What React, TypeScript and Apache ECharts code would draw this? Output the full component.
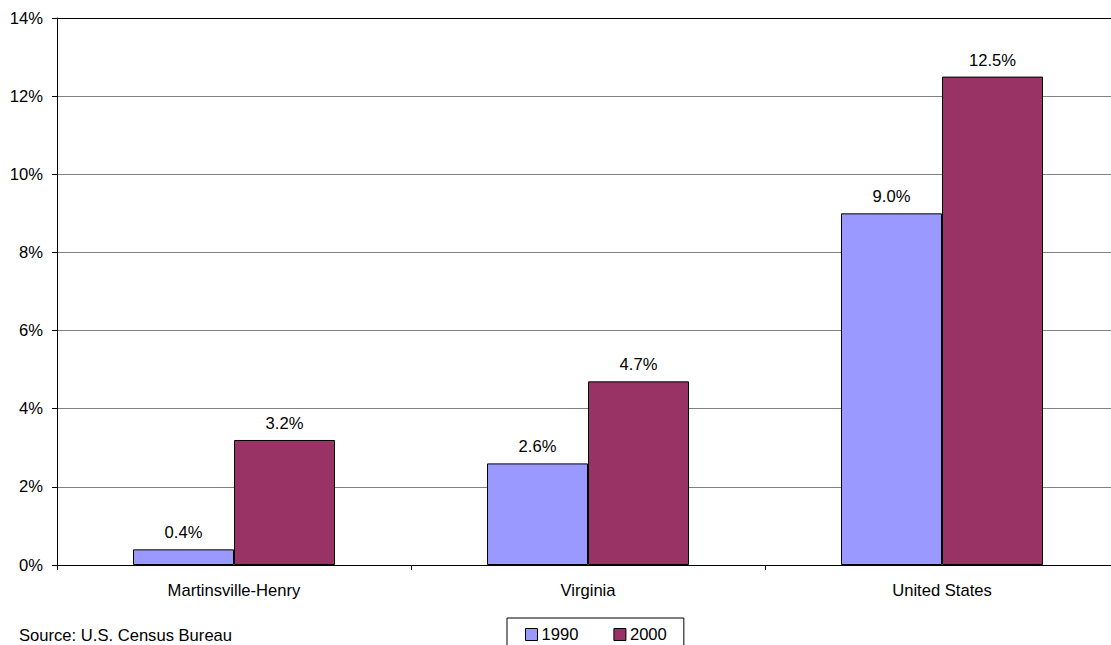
import React, { useEffect, useRef } from "react";
import * as echarts from "echarts";

const categories = ["Martinsville-Henry", "Virginia", "United States"];
const series1990 = [0.4, 2.6, 9.0];
const series2000 = [3.2, 4.7, 12.5];
const seriesNames = ["1990", "2000"];
const yTicks = [0, 2, 4, 6, 8, 10, 12, 14];
const sourceText = "Source: U.S. Census Bureau";

const FONT = "'Liberation Sans', Arial, sans-serif";
const FS = 16.6;

export default function App() {
  const ref = useRef<HTMLDivElement>(null);
  useEffect(() => {
    if (!ref.current) return;
    const chart = echarts.init(ref.current, undefined, { renderer: "svg" });
    const label = {
      show: true,
      position: "top" as const,
      distance: 8,
      color: "#000",
      fontSize: FS,
      fontFamily: FONT,
      formatter: (p: any) => Number(p.value).toFixed(1) + "%",
    };
    chart.setOption({
      animation: false,
      backgroundColor: "#fff",
      textStyle: { fontFamily: FONT },
      grid: { left: 57, top: 18, right: 0, bottom: 80, containLabel: false },
      legend: {
        data: seriesNames,
        left: 507,
        top: 618,
        orient: "horizontal",
        padding: [8, 17, 8, 18],
        itemGap: 35,
        itemWidth: 12,
        itemHeight: 12,
        borderColor: "#000",
        borderWidth: 1,
        borderRadius: 0,
        icon: "rect",
        itemStyle: { borderColor: "#000", borderWidth: 1 },
        textStyle: { fontSize: FS, color: "#000", fontFamily: FONT, padding: [0, 0, 0, -1] },
      },
      xAxis: {
        type: "category",
        data: categories,
        axisLine: { lineStyle: { color: "#000", width: 1 } },
        axisTick: { show: true, length: 5, lineStyle: { color: "#000" } },
        axisLabel: { fontSize: FS, color: "#000", margin: 17, fontFamily: FONT },
        splitLine: { show: false },
      },
      yAxis: {
        type: "value",
        min: yTicks[0],
        max: yTicks[yTicks.length - 1],
        interval: 2,
        axisLine: { show: true, lineStyle: { color: "#000", width: 1 } },
        axisTick: { show: true, length: 5, lineStyle: { color: "#000" } },
        axisLabel: {
          fontSize: FS,
          color: "#000",
          margin: 14,
          fontFamily: FONT,
          formatter: (v: number) => v + "%",
        },
        splitLine: {
          show: true,
          lineStyle: {
            color: ["#808080", "#808080", "#808080", "#808080", "#808080", "#808080", "#808080", "#000"],
            width: 1,
          },
        },
      },
      series: [
        {
          name: seriesNames[0],
          type: "bar",
          data: series1990,
          barWidth: 101,
          barGap: "0%",
          itemStyle: { color: "#9999FF", borderColor: "#000", borderWidth: 1 },
          label,
        },
        {
          name: seriesNames[1],
          type: "bar",
          data: series2000,
          barWidth: 101,
          barGap: "0%",
          itemStyle: { color: "#993366", borderColor: "#000", borderWidth: 1 },
          label,
        },
      ],
      graphic: [
        {
          type: "text",
          left: 19,
          top: 627,
          style: { text: sourceText, fontSize: FS, fill: "#000", fontFamily: FONT },
        },
      ],
    });
    return () => chart.dispose();
  }, []);
  return (
    <div
      ref={ref}
      style={{ position: "fixed", left: 0, top: 0, width: 1119, height: 645 }}
    />
  );
}
